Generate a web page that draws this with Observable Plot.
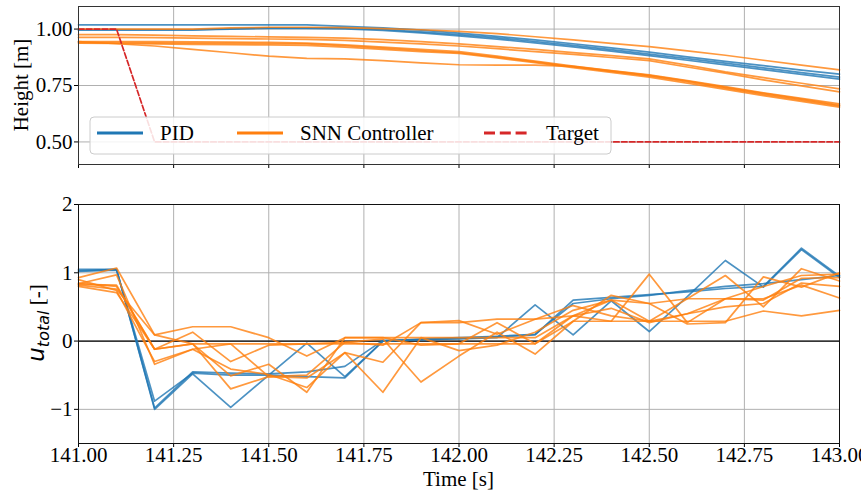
<!DOCTYPE html>
<html><head><meta charset="utf-8">
<script src="https://cdn.jsdelivr.net/npm/d3@7"></script>
<script src="https://cdn.jsdelivr.net/npm/@observablehq/plot@0.6"></script>
<style>
body{margin:0;background:#fff;}
#chart{width:861px;height:492px;overflow:hidden;background:#fff;}
#chart svg{display:block;}
</style>
</head><body><div id="chart"></div>
<script>
// ---------- data ----------
const time = [141.0,141.1,141.2,141.3,141.4,141.5,141.6,141.7,141.8,141.9,142.0,142.1,142.2,142.3,142.4,142.5,142.6,142.7,142.8,142.9,143.0];
const xTicks = [141.00,141.25,141.50,141.75,142.00,142.25,142.50,142.75,143.00];
const heightTicks = [0.50,0.75,1.00];
const uTicks = [-1,0,1,2];
const seriesNames = ["PID","SNN Controller","Target"];

const targetHeight = [1.0,1.0,0.5,0.5,0.5,0.5,0.5,0.5,0.5,0.5,0.5,0.5,0.5,0.5,0.5,0.5,0.5,0.5,0.5,0.5,0.5];

const pidHeight = [
  [1.019,1.019,1.019,1.019,1.019,1.019,1.019,1.012,1.005,0.995,0.982,0.968,0.952,0.935,0.917,0.898,0.877,0.857,0.838,0.818,0.800],
  [0.996,0.996,0.996,0.996,1.002,1.005,1.005,1.004,0.998,0.988,0.975,0.961,0.945,0.928,0.909,0.889,0.869,0.849,0.828,0.807,0.787],
  [0.996,0.996,0.996,0.996,1.000,1.003,1.003,1.001,0.994,0.983,0.970,0.955,0.939,0.921,0.902,0.882,0.862,0.841,0.820,0.799,0.778]
];
const snnHeight = [
  [1.000,1.000,1.000,1.000,1.005,1.008,1.008,1.006,1.002,0.997,0.990,0.980,0.966,0.952,0.937,0.922,0.903,0.884,0.862,0.840,0.819],
  [0.975,0.975,0.973,0.970,0.968,0.965,0.963,0.960,0.953,0.944,0.934,0.922,0.910,0.896,0.882,0.868,0.840,0.810,0.785,0.760,0.735],
  [0.963,0.963,0.962,0.960,0.958,0.956,0.954,0.950,0.942,0.934,0.925,0.913,0.900,0.888,0.874,0.860,0.832,0.805,0.775,0.748,0.722],
  [0.945,0.945,0.944,0.943,0.942,0.941,0.938,0.930,0.920,0.910,0.900,0.880,0.858,0.836,0.816,0.797,0.772,0.745,0.718,0.693,0.669],
  [0.940,0.940,0.939,0.938,0.937,0.936,0.934,0.926,0.916,0.905,0.895,0.876,0.855,0.833,0.812,0.792,0.766,0.738,0.711,0.685,0.660],
  [0.938,0.936,0.934,0.932,0.931,0.930,0.928,0.920,0.910,0.900,0.892,0.872,0.851,0.829,0.808,0.787,0.760,0.733,0.705,0.680,0.654],
  [0.945,0.935,0.925,0.910,0.895,0.880,0.870,0.868,0.860,0.850,0.842,0.840,0.840,0.835,0.815,0.795,0.770,0.742,0.715,0.690,0.663]
];

const pidU = [
  [1.05,1.05,-1.00,-0.48,-0.97,-0.50,-0.03,-0.52,0.00,0.02,0.03,0.05,0.53,0.09,0.59,0.14,0.65,1.18,0.79,1.34,0.93],
  [1.03,1.05,-0.98,-0.45,-0.47,-0.48,-0.45,-0.37,0.01,0.02,0.04,0.06,0.09,0.60,0.64,0.68,0.72,0.77,0.80,1.36,0.95],
  [1.02,1.04,-0.88,-0.47,-0.50,-0.50,-0.52,-0.54,0.00,0.03,0.05,0.07,0.10,0.55,0.62,0.67,0.74,0.80,0.84,0.90,0.96]
];
const snnU = [
  [0.85,0.80,-0.12,-0.04,-0.04,-0.04,-0.04,-0.04,-0.04,-0.04,-0.04,-0.04,-0.04,0.29,0.29,0.29,0.29,0.29,0.44,0.37,0.45],
  [0.93,1.07,0.09,0.21,0.21,0.05,-0.22,0.05,0.05,0.05,0.05,0.05,0.05,0.37,0.60,0.29,0.62,0.96,0.50,1.06,0.88],
  [0.84,0.97,-0.34,-0.12,-0.41,-0.49,-0.68,-0.17,-0.31,0.27,0.27,0.32,0.32,0.52,0.37,0.29,0.40,0.50,0.55,0.85,0.80],
  [0.83,0.82,-0.12,0.13,-0.30,-0.06,-0.04,-0.02,0.03,-0.60,-0.22,0.13,-0.19,0.29,0.67,0.55,0.25,0.27,0.94,0.79,1.00],
  [0.82,0.76,0.09,-0.04,-0.51,-0.34,-0.75,0.05,0.05,-0.06,-0.04,0.27,-0.04,0.37,0.29,0.98,0.27,0.62,0.80,0.96,0.98],
  [0.80,0.71,-0.12,-0.04,-0.70,-0.52,-0.54,-0.17,-0.75,0.05,-0.14,-0.06,0.13,0.45,0.60,0.55,0.62,0.62,0.60,0.92,0.93],
  [0.90,0.74,-0.30,-0.12,-0.04,-0.52,-0.50,-0.02,-0.06,0.27,0.30,0.10,0.32,0.37,0.48,0.27,0.40,0.62,0.62,0.82,0.63]
];

// ---------- build tables ----------
const toRows = (runs, prefix) => runs.flatMap((vals, r) => vals.map((v, i) => ({t: time[i], v, run: prefix + r})));
const pidHRows = toRows(pidHeight, "p");
const snnHRows = toRows(snnHeight, "s");
const targetRows = targetHeight.map((v, i) => ({t: time[i], v}));
const pidURows = toRows(pidU, "p");
const snnURows = toRows(snnU, "s");

const BLUE = "#1f77b4", ORANGE = "#ff7f0e", RED = "#d62728";
const SERIF = "'Liberation Serif', 'Times New Roman', serif";
const FS = 21;
const W = 861;
const style = {fontFamily: SERIF, fontSize: FS + "px", background: "white", color: "black"};
const gridStyle = {stroke: "#b0b0b0", strokeOpacity: 1, strokeWidth: 1};
const axisFont = {fontFamily: SERIF, fontSize: FS};

// ---------- top panel ----------
const topPlot = Plot.plot({
  width: W, height: 185,
  marginLeft: 78, marginRight: 22, marginTop: 6, marginBottom: 21,
  style,
  x: {domain: [141, 143]},
  y: {domain: [0.40, 1.10]},
  marks: [
    Plot.ruleX(xTicks, gridStyle),
    Plot.ruleY(heightTicks, gridStyle),
    Plot.axisX(xTicks, {tickSize: 4, tickFormat: () => "", label: null}),
    Plot.axisY(heightTicks, {...axisFont, tickSize: 4, tickPadding: 2, tickFormat: d3.format(".2f"), label: null}),
    Plot.line(pidHRows, {x: "t", y: "v", z: "run", stroke: BLUE, strokeWidth: 1.7, strokeOpacity: 0.8}),
    Plot.line(snnHRows, {x: "t", y: "v", z: "run", stroke: ORANGE, strokeWidth: 1.7, strokeOpacity: 0.8}),
    Plot.line(targetRows, {x: "t", y: "v", stroke: RED, strokeWidth: 1.7, strokeDasharray: "5.5,2.4"}),
    Plot.frame({stroke: "#333", strokeWidth: 1})
  ]
});

// ---------- bottom panel ----------
const bottomPlot = Plot.plot({
  width: W, height: 307,
  marginLeft: 78, marginRight: 22, marginTop: 19, marginBottom: 49,
  style,
  x: {domain: [141, 143]},
  y: {domain: [-1.5, 2]},
  marks: [
    Plot.ruleX(xTicks, gridStyle),
    Plot.ruleY(uTicks, gridStyle),
    Plot.axisX(xTicks, {...axisFont, tickSize: 4, tickPadding: 0, tickFormat: d3.format(".2f"), label: null}),
    Plot.axisY(uTicks, {...axisFont, tickSize: 4, tickPadding: 2, tickFormat: d => d < 0 ? "\u2212" + Math.abs(d) : String(d), label: null}),
    Plot.ruleY([0], {stroke: "black", strokeWidth: 1.2}),
    Plot.line(pidURows, {x: "t", y: "v", z: "run", stroke: BLUE, strokeWidth: 1.7, strokeOpacity: 0.8}),
    Plot.line(snnURows, {x: "t", y: "v", z: "run", stroke: ORANGE, strokeWidth: 1.7, strokeOpacity: 0.8}),
    Plot.frame({stroke: "#111", strokeWidth: 1})
  ]
});

const chart = document.getElementById("chart");
chart.appendChild(topPlot);
chart.appendChild(bottomPlot);

// ---------- labels ----------
const serifText = sel => sel.style("font-family", SERIF).style("font-size", FS + "px").style("font-style", "normal");
const ts = d3.select(topPlot);
serifText(ts.append("text").attr("transform", "translate(28,85) rotate(-90)")
  .style("text-anchor", "middle")).text("Height [m]");

const bs = d3.select(bottomPlot);
const ul = bs.append("text").attr("transform", "translate(44,138) rotate(-90)").style("text-anchor", "middle");
ul.append("tspan").style("font-family", "'DejaVu Sans', sans-serif").style("font-style", "italic").style("font-size", "23px").text("u");
ul.append("tspan").style("font-family", "'DejaVu Sans', sans-serif").style("font-style", "italic").style("font-size", "16px").attr("dy", 5).text("total");
ul.append("tspan").style("font-family", SERIF).style("font-size", FS + "px").attr("dy", -5).text(" [-]");

serifText(bs.append("text").attr("x", (78 + W - 22) / 2).attr("y", 301).style("text-anchor", "middle")).text("Time [s]");

// ---------- legend ----------
const lg = ts.append("g");
lg.append("rect").attr("x", 90).attr("y", 117).attr("width", 521).attr("height", 37).attr("rx", 4)
  .attr("fill", "white").attr("fill-opacity", 0.85).attr("stroke", "#cccccc").attr("stroke-width", 1);
const entries = [
  {name: seriesNames[0], color: BLUE, x0: 97, tx: 160, dash: null},
  {name: seriesNames[1], color: ORANGE, x0: 237, tx: 300, dash: null},
  {name: seriesNames[2], color: RED, x0: 484, tx: 546, dash: "11,4.8"}
];
for (const e of entries) {
  const ln = lg.append("line").attr("x1", e.x0).attr("x2", e.x0 + 46).attr("y1", 133).attr("y2", 133)
    .attr("stroke", e.color).attr("stroke-width", 3);
  if (e.dash) ln.attr("stroke-dasharray", e.dash);
  serifText(lg.append("text").attr("x", e.tx).attr("y", 140).style("text-anchor", "start")).text(e.name);
}
</script></body></html>
